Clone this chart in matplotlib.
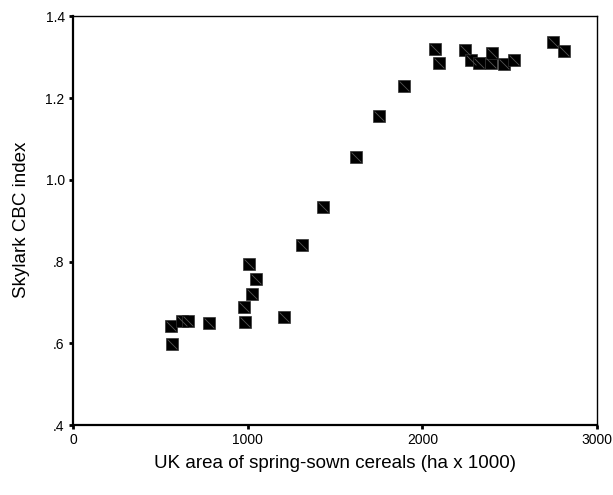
import matplotlib.pyplot as plt
from matplotlib.path import Path

plt.rcParams['font.family'] = ['Liberation Sans', 'DejaVu Sans']

# spring cereal area (ha x 1000) against skylark CBC index
area = [561, 568, 622, 657, 777, 977, 985, 1009, 1025, 1046, 1209,
        1309, 1433, 1618, 1750, 1896, 2074, 2097,
        2244, 2276, 2322, 2391, 2398, 2467, 2523, 2749, 2809]
index = [0.642, 0.599, 0.655, 0.655, 0.649, 0.688, 0.652, 0.794, 0.721, 0.757, 0.665,
         0.841, 0.933, 1.055, 1.156, 1.231, 1.320, 1.287,
         1.318, 1.294, 1.287, 1.287, 1.310, 1.284, 1.294, 1.338, 1.316]

xticks = [0, 1000, 2000, 3000]
xticklabels = ['0', '1000', '2000', '3000']
yticks = [0.4, 0.6, 0.8, 1.0, 1.2, 1.4]
yticklabels = ['.4', '.6', '.8', '1.0', '1.2', '1.4']

fig = plt.figure(figsize=(6.13, 4.95), dpi=100)
ax = fig.add_axes([0.1191, 0.1414, 0.8548, 0.8253])

ax.plot(area, index, linestyle='none', marker='s', markersize=8.0,
        markerfacecolor='black', markeredgecolor='#333333', markeredgewidth=0.5)
# thin diagonal stroke inside each square
diag = Path([(-1, 1), (1, -1)], [Path.MOVETO, Path.LINETO])
ax.plot(area, index, linestyle='none', marker=diag, markersize=7.0,
        markeredgecolor='#555555', markeredgewidth=0.6, markerfacecolor='none')

ax.set_xlim(0, 3000)
ax.set_ylim(0.4, 1.4)
ax.set_xticks(xticks)
ax.set_xticklabels(xticklabels)
ax.set_yticks(yticks)
ax.set_yticklabels(yticklabels)
ax.tick_params(direction='out', length=3, width=2, labelsize=10, pad=3, color='black')

for side in ['left', 'bottom']:
    ax.spines[side].set_linewidth(1.6)
for side in ['top', 'right']:
    ax.spines[side].set_linewidth(1.0)

fig.text(0.546, 1 - 463 / 495, 'UK area of spring-sown cereals (ha x 1000)',
         ha='center', va='center', fontsize=13.5)
fig.text(22 / 613, 1 - 220 / 495, 'Skylark CBC index', rotation=90,
         ha='center', va='center', fontsize=13.5)

fig.savefig('out.png', dpi=100)
